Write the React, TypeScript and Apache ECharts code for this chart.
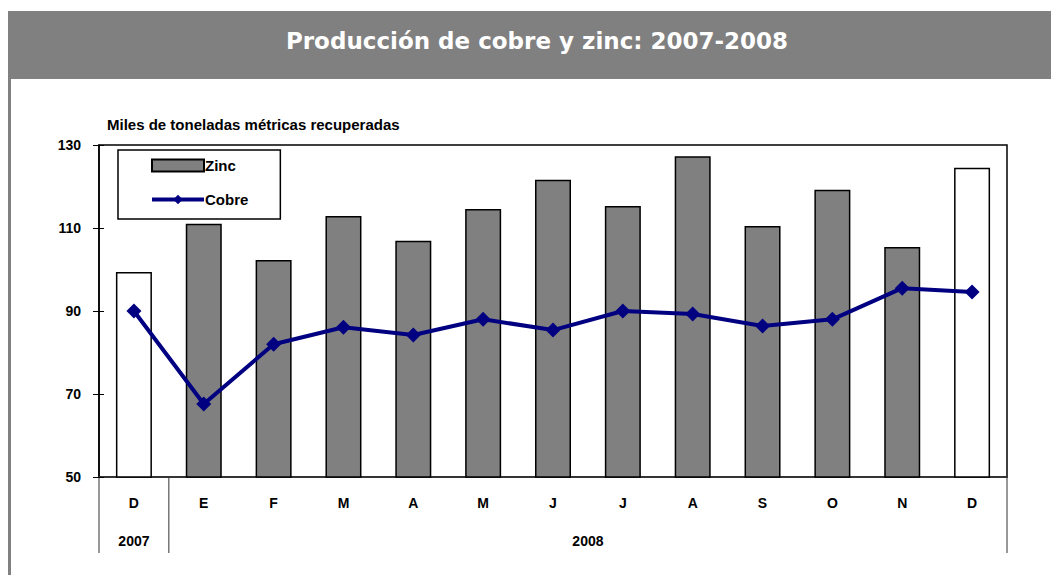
import React, { useEffect, useRef } from "react";
import * as echarts from "echarts";

const categories = ["D", "E", "F", "M", "A", "M", "J", "J", "A", "S", "O", "N", "D"];
const zinc = [99.4, 111.0, 102.3, 112.9, 106.9, 114.6, 121.6, 115.3, 127.3, 110.5, 119.2, 105.4, 124.5];
const cobre = [90.0, 67.6, 82.0, 86.1, 84.2, 88.0, 85.4, 90.0, 89.3, 86.4, 88.0, 95.5, 94.6];
const whiteBarIndexes = [0, 12];
const years = [
  { label: "2007", from: 0, to: 1 },
  { label: "2008", from: 1, to: 13 },
];
const title = "Producción de cobre y zinc: 2007-2008";
const yTitle = "Miles de toneladas métricas recuperadas";

const W = 1051;
const H = 575;
const GL = 99;
const GR = 1007;
const GT = 145;
const GB = 477;
const FONT = "'Liberation Sans', Arial, sans-serif";

export default function App() {
  const ref = useRef<HTMLDivElement>(null);
  useEffect(() => {
    if (!ref.current) return;
    const chart = echarts.init(ref.current, null, { renderer: "svg", width: W, height: H });
    const catW = (GR - GL) / categories.length;
    const sepLines: any[] = [];
    const yearTexts: any[] = [];
    const bounds = new Set<number>();
    years.forEach((y) => {
      bounds.add(y.from);
      bounds.add(y.to);
      yearTexts.push({
        type: "text",
        x: GL + ((y.from + y.to) / 2) * catW,
        y: 541,
        style: {
          text: y.label,
          font: `bold 14px ${FONT}`,
          fill: "#000",
          align: "center",
          verticalAlign: "middle",
        },
      });
    });
    bounds.forEach((b) => {
      sepLines.push({
        type: "line",
        shape: { x1: GL + b * catW, y1: GB, x2: GL + b * catW, y2: 553 },
        style: { stroke: "#333", lineWidth: 1 },
      });
    });

    chart.setOption({
      animation: false,
      backgroundColor: "#fff",
      grid: {
        left: GL,
        top: GT,
        right: W - GR,
        bottom: H - GB,
        show: true,
        borderColor: "#000",
        borderWidth: 1.5,
        backgroundColor: "transparent",
      },
      legend: {
        left: 118,
        top: 150,
        orient: "vertical",
        data: [{ name: "Zinc", icon: "rect" }, { name: "Cobre" }],
        backgroundColor: "#fff",
        borderColor: "#000",
        borderWidth: 1.5,
        borderRadius: 0,
        padding: [8, 32, 12, 32],
        itemGap: 19,
        itemWidth: 52,
        itemHeight: 12,
        lineStyle: { width: 4 },
        textStyle: {
          fontFamily: FONT,
          fontWeight: "bold",
          fontSize: 15,
          color: "#000",
          padding: [0, 0, 0, -4],
        },
      },
      xAxis: {
        type: "category",
        data: categories,
        boundaryGap: true,
        axisLine: { lineStyle: { color: "#333", width: 1.5 } },
        axisTick: { show: false },
        axisLabel: { fontFamily: FONT, fontWeight: "bold", fontSize: 14, color: "#000", margin: 19 },
        splitLine: { show: false },
      },
      yAxis: [
        {
          type: "value",
          min: 50,
          max: 130,
          interval: 20,
          axisLine: { show: true, lineStyle: { color: "#000", width: 1.5 } },
          axisTick: { show: true, inside: false, length: 6, lineStyle: { color: "#000" } },
          axisLabel: { fontFamily: FONT, fontWeight: "bold", fontSize: 14, color: "#000", margin: 18 },
          splitLine: { show: false },
        },
        {
          type: "value",
          min: 50,
          max: 130,
          interval: 20,
          position: "left",
          axisLine: { show: false },
          axisTick: { show: true, inside: true, length: 5, lineStyle: { color: "#000" } },
          axisLabel: { show: false },
          splitLine: { show: false },
        },
      ],
      series: [
        {
          name: "Zinc",
          type: "bar",
          barWidth: 36,
          itemStyle: { color: "#808080", borderColor: "#000", borderWidth: 1.5 },
          data: zinc.map((v, i) =>
            whiteBarIndexes.includes(i) ? { value: v, itemStyle: { color: "#fff" } } : v
          ),
          z: 2,
        },
        {
          name: "Cobre",
          type: "line",
          data: cobre,
          symbol: "diamond",
          symbolSize: 15,
          lineStyle: { color: "#000080", width: 4 },
          itemStyle: { color: "#000080" },
          z: 3,
        },
      ],
      graphic: [
        {
          type: "rect",
          shape: { x: 8, y: 11, width: W - 8, height: 68 },
          style: { fill: "#808080" },
          silent: true,
        },
        {
          type: "text",
          x: 537,
          y: 41,
          style: {
            text: title,
            font: "bold 23px 'DejaVu Sans', Verdana, sans-serif",
            fill: "#fff",
            align: "center",
            verticalAlign: "middle",
          },
        },
        {
          type: "line",
          shape: { x1: 9.5, y1: 79, x2: 9.5, y2: 575 },
          style: { stroke: "#808080", lineWidth: 3 },
        },
        {
          type: "text",
          x: 107,
          y: 124,
          style: {
            text: yTitle,
            font: `bold 15px ${FONT}`,
            fill: "#000",
            align: "left",
            verticalAlign: "middle",
          },
        },
        ...sepLines,
        ...yearTexts,
      ],
    });
    return () => chart.dispose();
  }, []);
  return (
    <div
      ref={ref}
      style={{ position: "fixed", left: 0, top: 0, width: W, height: H, background: "#fff" }}
    />
  );
}
